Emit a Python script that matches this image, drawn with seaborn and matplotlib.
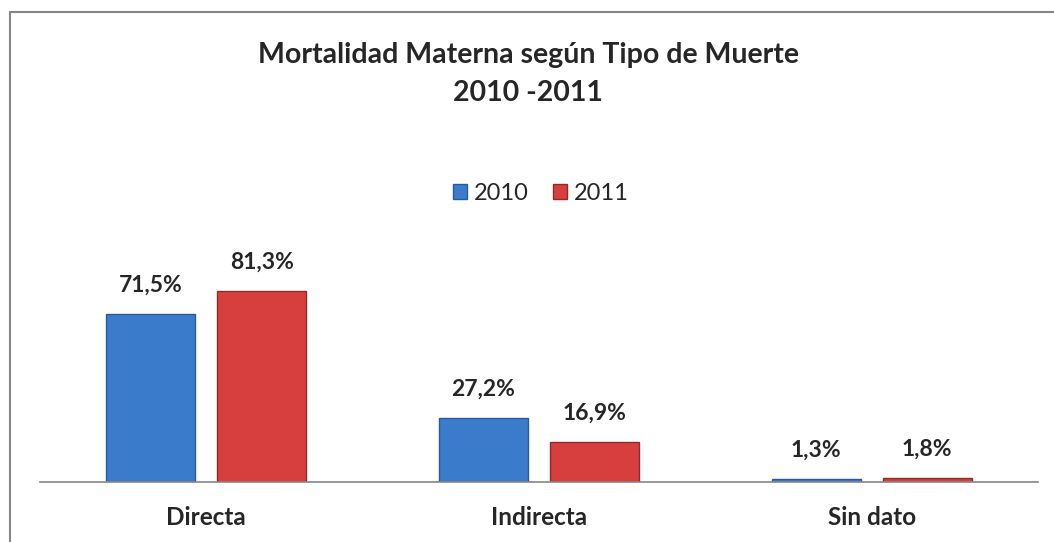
import matplotlib
matplotlib.use("Agg")
import matplotlib.pyplot as plt
import pandas as pd
import seaborn as sns
from matplotlib.patches import Rectangle

# Data
categorias = ["Directa", "Indirecta", "Sin dato"]
anios = ["2010", "2011"]
valores_2010 = [71.5, 27.2, 1.3]
valores_2011 = [81.3, 16.9, 1.8]

df = pd.DataFrame({
    "tipo": categorias * 2,
    "anio": [anios[0]] * 3 + [anios[1]] * 3,
    "valor": valores_2010 + valores_2011,
})

sns.set_style("white")
plt.rcParams["font.family"] = ["Lato", "DejaVu Sans"]

colores = {"2010": "#3b7bcc", "2011": "#d63f3e"}
bordes = {"2010": "#2a5b98", "2011": "#8f2a29"}

fig = plt.figure(figsize=(10.54, 5.42), dpi=100)
ax = fig.add_axes([40 / 1054, 60 / 542, 998 / 1054, 252 / 542])

sns.barplot(data=df, x="tipo", y="valor", hue="anio", palette=colores,
            width=0.667, gap=0.2, ax=ax, legend=False, saturation=1)

# darker edges on bars + value labels
for cont, anio in zip(ax.containers, anios):
    for bar in cont:
        bar.set_edgecolor(bordes[anio])
        bar.set_linewidth(1)
    ax.bar_label(cont, labels=[f"{v:.1f}".replace(".", ",") + "%" for v in cont.datavalues],
                 padding=13, fontsize=16.5, fontweight="bold")

ax.set_ylim(0, 107)
ax.set_xlim(-0.5, 2.5)
ax.set_xlabel("")
ax.set_ylabel("")
ax.set_yticks([])
ax.tick_params(axis="x", length=0, pad=17)
for lbl in ax.get_xticklabels():
    lbl.set_fontsize(17.5)
    lbl.set_fontweight("bold")
for s in ["top", "right", "left"]:
    ax.spines[s].set_visible(False)
ax.spines["bottom"].set_color("#868686")
ax.spines["bottom"].set_linewidth(1.2)

# legend
handles = [Rectangle((0, 0), 1, 1, facecolor=colores[a], edgecolor=bordes[a]) for a in anios]
fig.legend(handles, anios, loc="center", bbox_to_anchor=(541 / 1054, 1 - 193 / 542),
           ncol=2, frameon=False, fontsize=17, handlelength=0.6, handleheight=0.6,
           handletextpad=0.3, columnspacing=1.0)

fig.text(528 / 1054, 1 - 55 / 542, "Mortalidad Materna según Tipo de Muerte",
         ha="center", va="center", fontsize=20.5, fontweight="bold")
fig.text(528 / 1054, 1 - 93 / 542, "2010 -2011",
         ha="center", va="center", fontsize=20.5, fontweight="bold")

# outer chart border (top and left visible)
fig.add_artist(plt.Line2D([9.5 / 1054, 9.5 / 1054], [0, 1 - 12 / 542],
                          transform=fig.transFigure, color="#868686", lw=1.5))
fig.add_artist(plt.Line2D([9.5 / 1054, 1], [1 - 12 / 542, 1 - 12 / 542],
                          transform=fig.transFigure, color="#868686", lw=1.5))

fig.savefig("out.png", dpi=100)
